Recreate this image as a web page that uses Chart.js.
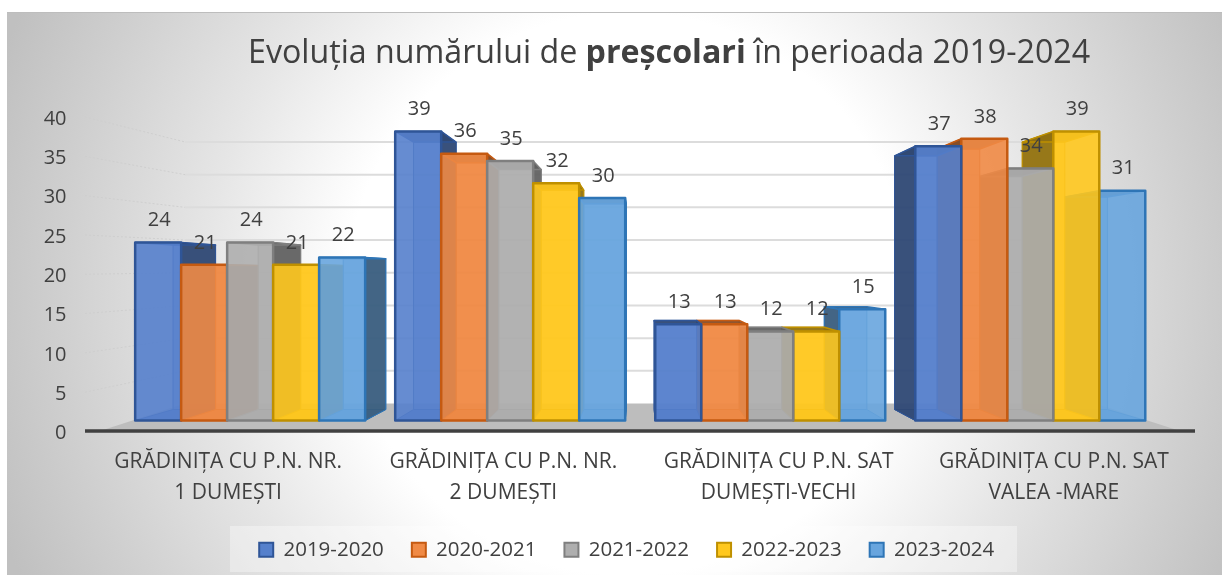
<!DOCTYPE html>
<html>
<head>
<meta charset="utf-8">
<style>html,body{margin:0;padding:0;background:#fff}canvas{display:block}</style>
<script src="https://cdn.jsdelivr.net/npm/chart.js@4"></script>
</head>
<body>
<div style="width:1229px;height:580px"><canvas id="c" width="1229" height="580"></canvas></div>
<script>
const categories = [["GRĂDINIȚA CU P.N. NR.","1 DUMEȘTI"],["GRĂDINIȚA CU P.N. NR.","2 DUMEȘTI"],["GRĂDINIȚA CU P.N. SAT","DUMEȘTI-VECHI"],["GRĂDINIȚA CU P.N. SAT","VALEA -MARE"]];
const s2019 = [24,39,13,37];
const s2020 = [21,36,13,38];
const s2021 = [24,35,12,34];
const s2022 = [21,32,12,39];
const s2023 = [22,30,15,31];
const seriesNames = ["2019-2020","2020-2021","2021-2022","2022-2023","2023-2024"];
const seriesValues = [s2019,s2020,s2021,s2022,s2023];
const fills = ["#5580CC","#F08A45","#AEAEAE","#FFC81E","#68A5DE"];
const edges = ["#2F5597","#C55A11","#7F7F7F","#BF9000","#2E75B6"];
const yTicks = [0,5,10,15,20,25,30,35,40];
const FONT = '"Open Sans"';
const TEXT = '#404040';

const VX = 640, VY = 274, K = 0.075;
const toBack = (x,y)=>[x+(VX-x)*K, y+(VY-y)*K];
function poly(ctx,pts,fill,alpha,stroke){
  ctx.beginPath();
  pts.forEach((p,i)=>i?ctx.lineTo(p[0],p[1]):ctx.moveTo(p[0],p[1]));
  ctx.closePath();
  ctx.globalAlpha=alpha; ctx.fillStyle=fill; ctx.fill();
  ctx.globalAlpha=1;
  if(stroke){ctx.strokeStyle=stroke.c;ctx.lineWidth=stroke.w;ctx.lineJoin='round';ctx.stroke();}
}
function shade(hex,f){
  const n=parseInt(hex.slice(1),16);
  const c=[n>>16,(n>>8)&255,n&255].map(v=>Math.round(v*f));
  return `rgb(${c[0]},${c[1]},${c[2]})`;
}
function drawBar(ctx,el,i){
  const L=el.x-el.width/2,R=el.x+el.width/2,T=el.y,B=el.base;
  const a=toBack(L,T),b=toBack(R,T),c=toBack(R,B),d=toBack(L,B);
  const leftSide = el.x>VX;
  const fill=fills[i],edge=edges[i],dark=shade(fill,0.56);
  const thin={c:edge,w:1};
  poly(ctx,[a,b,c,d],fill,0.55,thin);
  poly(ctx,[[L,B],[R,B],c,d],shade(fill,0.9),0.85,thin);
  if(leftSide) poly(ctx,[[L,T],a,d,[L,B]],dark,0.92,thin);
  else poly(ctx,[[R,T],b,c,[R,B]],dark,0.92,thin);
  poly(ctx,[[L,T],[R,T],b,a],dark,0.92,{c:edge,w:1.5});
  poly(ctx,[[L,T],[R,T],[R,B],[L,B]],fill,0.9,{c:edge,w:2.5});
}
const scene = {
  id:'scene',
  afterLayout(chart){
    chart.legend.left+=31;chart.legend.right+=31;
  },
  beforeDraw(chart){
    const ctx=chart.ctx;
    ctx.save();
    ctx.fillStyle='#fff';ctx.fillRect(0,0,1229,580);
    const g=ctx.createRadialGradient(628,294,0,628,294,670);
    g.addColorStop(0,'#ffffff');g.addColorStop(0.42,'#ffffff');g.addColorStop(0.63,'#e6e6e6');g.addColorStop(0.85,'#cfcfcf');g.addColorStop(1,'#c0c0c0');
    ctx.fillStyle=g;ctx.fillRect(7,12,1215,563);
    ctx.fillStyle='#bdbdbd';ctx.fillRect(7,12,1215,1);
    ctx.fillStyle='rgba(255,255,255,0.35)';ctx.fillRect(230,526,787,46);
    ctx.fillStyle=TEXT;ctx.textBaseline='alphabetic';ctx.textAlign='left';
    const parts=[["Evoluția numărului de ",'400'],["preșcolari",'700'],[" în perioada 2019-2024",'400']];
    let x=248;
    parts.forEach(p=>{ctx.font=`${p[1]} 32.2px ${FONT}`;ctx.fillText(p[0],x,63);x+=ctx.measureText(p[0]).width;});
    ctx.restore();
  },
  beforeDatasetsDraw(chart){
    const ctx=chart.ctx,y=chart.scales.y,yw=chart.scales.yw;
    const fl=88,fr=1193,bl=185,br=1095;
    ctx.save();
    poly(ctx,[[100,431],[bl,yw.getPixelForValue(0)],[br,yw.getPixelForValue(0)],[1180,431]],'#BDBDBD',1);
    yTicks.forEach(v=>{
      if(v===0) return;
      const py=y.getPixelForValue(v)-2,pb=yw.getPixelForValue(v);
      ctx.strokeStyle='#dcdcdc';ctx.lineWidth=2;ctx.beginPath();ctx.moveTo(bl,pb);ctx.lineTo(br,pb);ctx.stroke();
      ctx.strokeStyle='rgba(205,205,205,0.9)';ctx.lineWidth=1;ctx.setLineDash([2,2]);ctx.beginPath();ctx.moveTo(fl-3,py);ctx.lineTo(bl,pb);ctx.stroke();ctx.setLineDash([]);
    });
    ctx.strokeStyle='#404040';ctx.lineWidth=3.5;ctx.beginPath();ctx.moveTo(fl-3,431);ctx.lineTo(fr+2,431);ctx.stroke();
    categories.forEach((_,c)=>{
      const first=chart.getDatasetMeta(0).data[c];
      const order=first.x<VX?[0,1,2,3,4]:[4,3,2,1,0];
      order.forEach(i=>drawBar(ctx,chart.getDatasetMeta(i).data[c],i));
    });
    ctx.restore();
  },
  beforeDatasetDraw(){return false;},
  afterDatasetsDraw(chart){
    const ctx=chart.ctx;
    ctx.save();
    ctx.font=`20px ${FONT}`;ctx.fillStyle=TEXT;ctx.textAlign='center';ctx.textBaseline='middle';
    seriesValues.forEach((vals,i)=>{
      chart.getDatasetMeta(i).data.forEach((el,c)=>ctx.fillText(String(vals[c]),el.x+1,el.y-22));
    });
    ctx.restore();
  }
};
const center=[0,1,2,3];
new Chart(document.getElementById('c'),{
  type:'bar',
  data:{
    labels:categories,
    datasets:seriesNames.map((n,i)=>({
      label:n,
      data:seriesValues[i].map((v,c)=>({x:center[c],y:v})),
      xAxisID:'xb',yAxisID:'yb',
      backgroundColor:fills[i],borderColor:edges[i],borderWidth:2,
      barThickness:46
    }))
  },
  options:{
    responsive:false,animation:false,
    layout:{padding:{top:119,left:0,right:37.5,bottom:10}},
    plugins:{
      title:{display:false},tooltip:{enabled:false},
      legend:{position:'bottom',labels:{boxWidth:14,boxHeight:14,padding:28,color:TEXT,font:{family:FONT,size:20.5}}}
    },
    scales:{
      x:{type:'category',position:'bottom',grid:{display:false,drawTicks:false},border:{display:false},
        ticks:{color:TEXT,padding:14,maxRotation:0,autoSkip:false,font:{family:FONT,size:21,lineHeight:1.43}},
        afterFit(s){s.height=78;}},
      xb:{type:'linear',position:'bottom',display:false,offset:false,min:-0.614,max:3.62,grid:{display:false}},
      y:{type:'linear',position:'left',min:0,max:40,grid:{display:false,drawTicks:false},border:{display:false},
        ticks:{stepSize:5,color:TEXT,padding:24,font:{family:FONT,size:20}},
        afterFit(s){s.width=90.5;}},
      yb:{type:'linear',position:'left',display:false,min:-1.751,max:40.673,grid:{display:false}},
      yw:{type:'linear',position:'left',display:false,min:-4.58,max:43.51,grid:{display:false}}
    }
  },
  plugins:[scene]
});
</script>
</body>
</html>
